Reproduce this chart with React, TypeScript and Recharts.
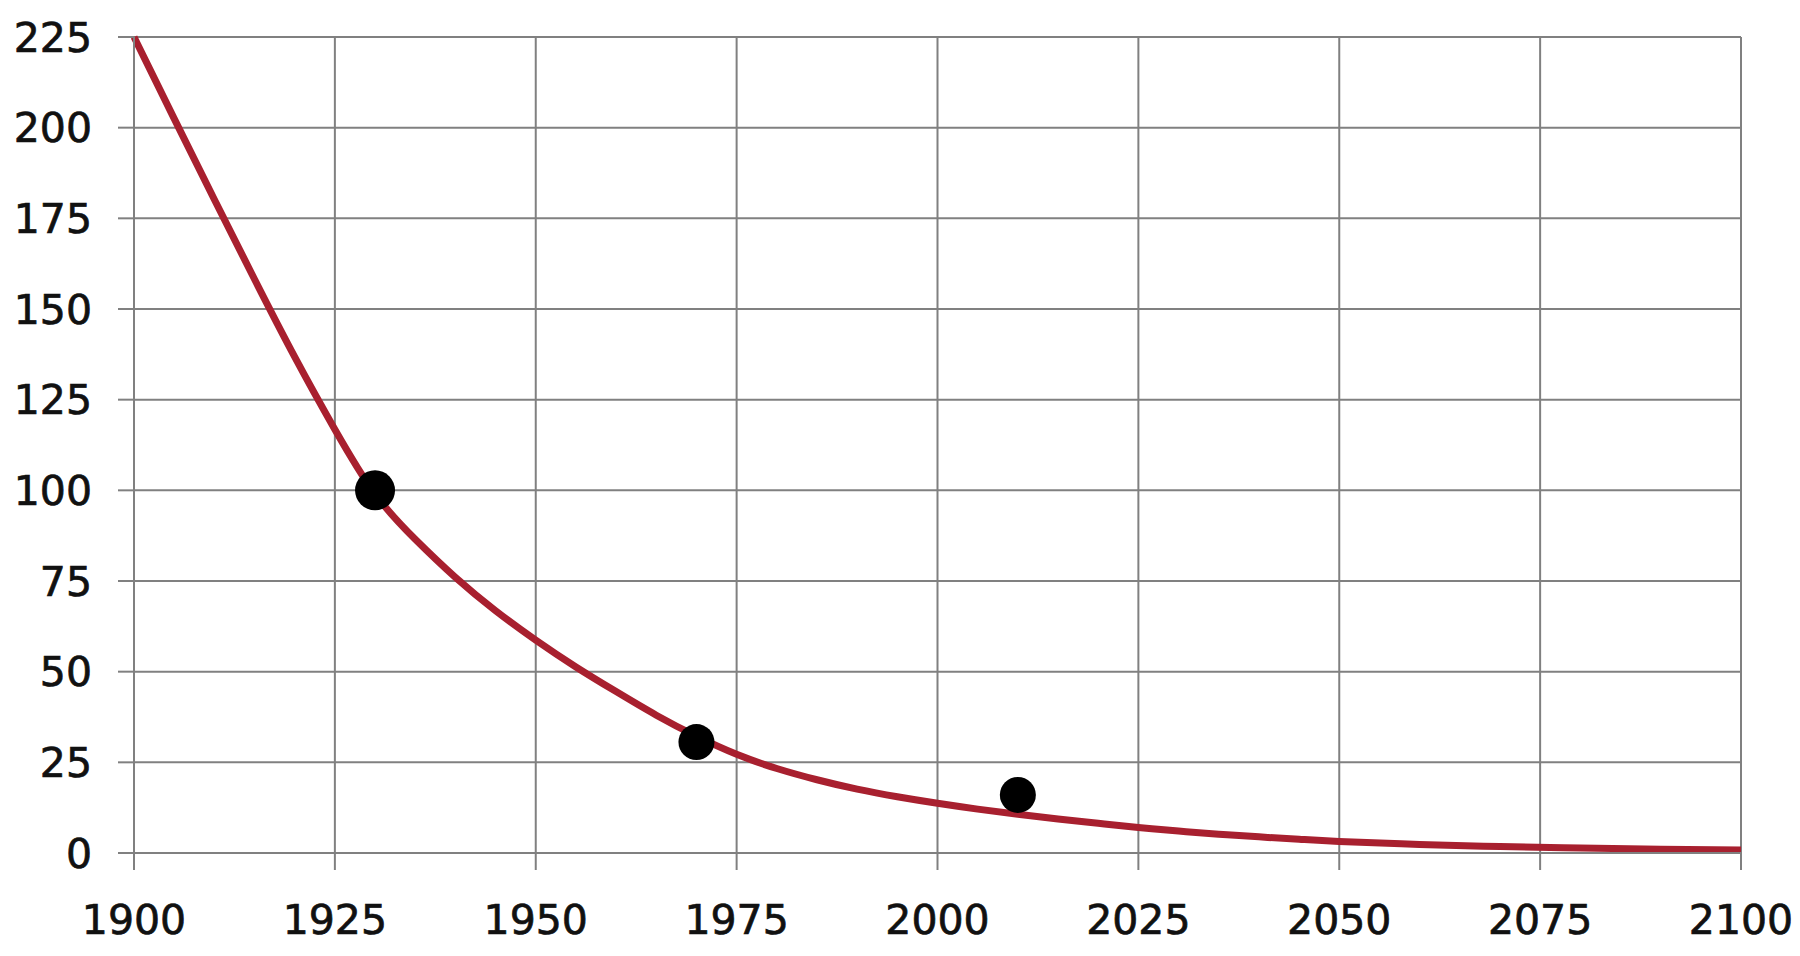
import React from "react";
import {
  ComposedChart,
  Line,
  Scatter,
  XAxis,
  YAxis,
  CartesianGrid,
} from "recharts";

const curveYears = [
  1900, 1905, 1910, 1915, 1920, 1925, 1930, 1935, 1940, 1945, 1950, 1955,
  1960, 1965, 1970, 1975, 1980, 1985, 1990, 1995, 2000, 2005, 2010, 2015,
  2020, 2025, 2030, 2035, 2040, 2045, 2050, 2060, 2070, 2080, 2090, 2100,
];
const curveValues = [
  225, 202.5, 180.2, 158.2, 136.8, 116.8, 99, 86.5, 76, 66.8, 58.7, 51.3,
  44.5, 38, 32.2, 27.2, 23.3, 20.2, 17.6, 15.5, 13.7, 12.1, 10.7, 9.4, 8.2,
  7.05, 6.05, 5.2, 4.45, 3.8, 3.2, 2.35, 1.8, 1.4, 1.05, 0.8,
];

const pointYears = [1930, 1970, 2010];
const pointValues = [100, 30.6, 16];

const xTicks = [1900, 1925, 1950, 1975, 2000, 2025, 2050, 2075, 2100];
const yTicks = [0, 25, 50, 75, 100, 125, 150, 175, 200, 225];

const curveData = curveYears.map((year, i) => ({ year, value: curveValues[i] }));
const pointData = pointYears.map((year, i) => ({ year, value: pointValues[i] }));

const FONT = "'DejaVu Sans', Verdana, sans-serif";
const GRID = "#808080";
const TICK_STYLE = {
  fill: "#111",
  stroke: "#111",
  strokeWidth: 0.7,
  fontSize: 41,
  fontFamily: FONT,
};

const Dot = (props: any) => {
  const { cx, cy, index } = props;
  const r = index === 0 ? 20 : 18;
  return <circle cx={cx} cy={cy} r={r} fill="#000" />;
};

export default function App() {
  return (
    <div style={{ position: "absolute", left: 0, top: 0, width: 1800, height: 956, background: "#fff" }}>
      <ComposedChart
        width={1800}
        height={956}
        margin={{ top: 37, right: 59, bottom: 0, left: 0 }}
      >
        <CartesianGrid stroke={GRID} strokeWidth={2} />
        <XAxis
          dataKey="year"
          type="number"
          domain={[1900, 2100]}
          ticks={xTicks}
          allowDecimals={false}
          height={103}
          tickSize={17}
          tickMargin={35}
          stroke={GRID}
          strokeWidth={2}
          tick={TICK_STYLE}
        />
        <YAxis
          dataKey="value"
          type="number"
          domain={[0, 225]}
          ticks={yTicks}
          width={134}
          tickSize={16}
          tickMargin={26}
          stroke={GRID}
          strokeWidth={2}
          tick={TICK_STYLE}
        />
        <Line
          data={curveData}
          dataKey="value"
          type="natural"
          stroke="#A8202F"
          strokeWidth={7}
          dot={false}
          activeDot={false}
          isAnimationActive={false}
        />
        <Scatter
          data={pointData}
          dataKey="value"
          fill="#000"
          shape={Dot}
          isAnimationActive={false}
        />
      </ComposedChart>
    </div>
  );
}
